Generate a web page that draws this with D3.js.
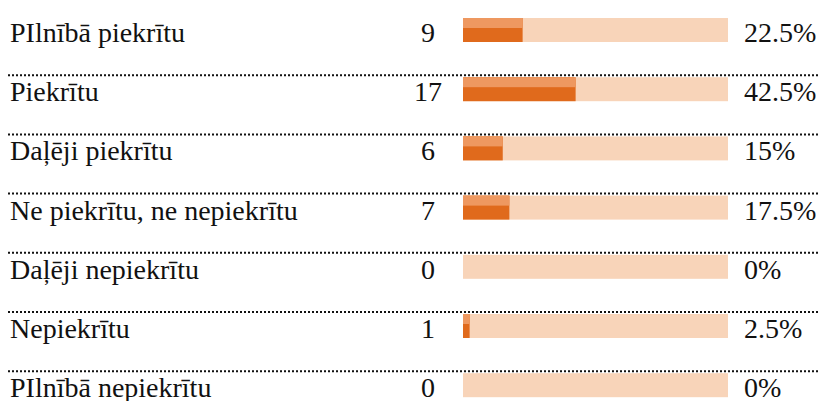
<!DOCTYPE html>
<html>
<head>
<meta charset="utf-8">
<script src="https://cdn.jsdelivr.net/npm/d3@7"></script>
<style>
	body { margin: 0; background: #fff; }
	text { font-family: "Liberation Serif", "Times New Roman", serif; font-size: 28px; fill: #111; }
</style>
</head>
<body>
<svg id="chart" width="819" height="401"></svg>
<script>
var categories = ["PIlnībā piekrītu", "Piekrītu", "Daļēji piekrītu", "Ne piekrītu, ne nepiekrītu", "Daļēji nepiekrītu", "Nepiekrītu", "PIlnībā nepiekrītu"];
var counts = [9, 17, 6, 7, 0, 1, 0];
var percents = [22.5, 42.5, 15, 17.5, 0, 2.5, 0];
var total = 40;

var svg = d3.select("#chart");

var x = d3.scaleLinear()
    .domain([0, total])
    .range([463, 728]);

var y = d3.scaleBand()
    .domain(categories)
    .range([16, 16 + 7 * 59.2])
    .padding(0);

var rows = categories.map(function (c, i) {
	return { name: c, count: counts[i], pct: percents[i] };
});

var row = svg.selectAll("g.row")
    .data(rows)
  .enter()
  .append("g").classed("row", true)
    .attr("transform", function (d) { return "translate(0, " + y(d.name) + ")" });

// dotted separators, none above the first row
row.filter(function (d, i) { return i > 0 })
  .append("line")
    .attr("x1", 8)
    .attr("x2", 819)
    .attr("y1", 0)
    .attr("y2", 0)
    .style("stroke", "#111")
    .style("stroke-width", 2)
    .style("stroke-dasharray", "2,2");

row.append("rect")
    .attr("x", x(0))
    .attr("y", 2)
    .attr("width", x(total) - x(0))
    .attr("height", 24)
    .style("fill", "#f8d4b9");

row.append("rect")
    .attr("x", x(0))
    .attr("y", 2)
    .attr("width", function (d) { return x(d.count) - x(0) })
    .attr("height", 24)
    .style("fill", "#e06a1c");

row.append("rect")
    .attr("x", x(0))
    .attr("y", 2)
    .attr("width", function (d) { return x(d.count) - x(0) })
    .attr("height", 10)
    .style("fill", "#ee9860");

row.append("text")
    .attr("x", 10)
    .attr("y", 26)
    .text(function (d) { return d.name });

row.append("text")
    .attr("x", 428)
    .attr("y", 26)
    .attr("text-anchor", "middle")
    .text(function (d) { return d.count });

row.append("text")
    .attr("x", 744)
    .attr("y", 26)
    .text(function (d) { return d.pct + "%" });
</script>
</body>
</html>
